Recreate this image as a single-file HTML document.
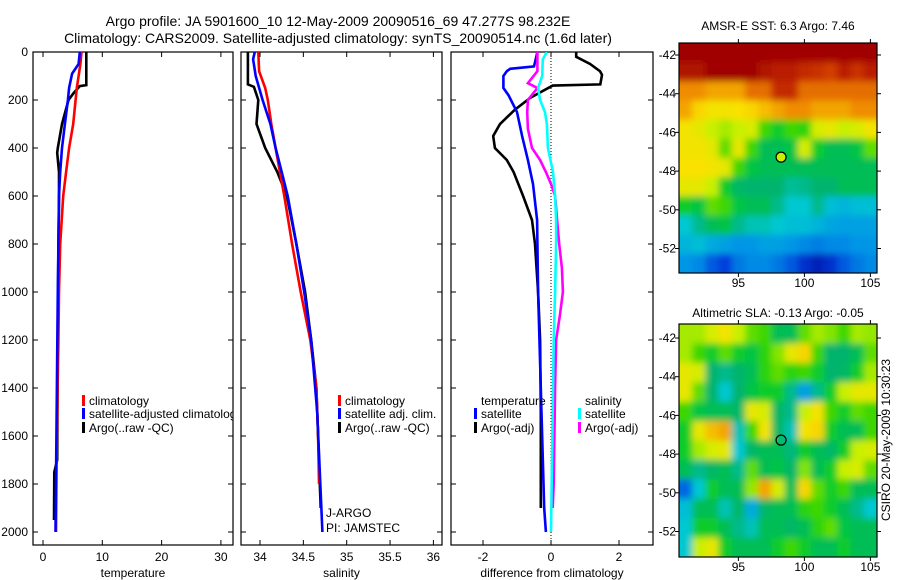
<!DOCTYPE html>
<html><head><meta charset="utf-8"><style>
body{margin:0;background:#fff;}
svg{display:block;font-family:"Liberation Sans",sans-serif;}
</style></head><body>
<svg id="fig" width="900" height="580" viewBox="0 0 900 580" xmlns="http://www.w3.org/2000/svg">
<defs>
<clipPath id="c1"><rect x="33" y="52" width="200" height="493"/></clipPath>
<clipPath id="c2"><rect x="241" y="52" width="201" height="493"/></clipPath>
<clipPath id="c3"><rect x="451" y="52" width="202" height="493"/></clipPath>
<clipPath id="cm1"><rect x="679" y="43" width="198" height="230"/></clipPath>
<clipPath id="cm2"><rect x="679" y="324" width="198" height="233"/></clipPath>
<filter id="bl" x="-5%" y="-5%" width="110%" height="110%"><feGaussianBlur stdDeviation="3.5"/></filter>
</defs>
<text x="338" y="26" font-size="14" text-anchor="middle">Argo profile: JA 5901600_10 12-May-2009 20090516_69 47.277S 98.232E</text>
<text x="338" y="43" font-size="14" text-anchor="middle">Climatology: CARS2009. Satellite-adjusted climatology: synTS_20090514.nc (1.6d later)</text>
<g id="g1"></g>
<g id="g2"></g>
<g id="g3"></g>
<g id="m1"></g>
<g id="m2"></g>
<text x="778" y="30" font-size="12" text-anchor="middle">AMSR-E SST: 6.3 Argo: 7.46</text>
<text x="778" y="317" font-size="12" text-anchor="middle">Altimetric SLA: -0.13 Argo: -0.05</text>
<text font-size="12" text-anchor="middle" transform="translate(890,440) rotate(-90)">CSIRO 20-May-2009 10:30:23</text>
</svg>
<script>
// ---- data ----
const depthTicks=[0,200,400,600,800,1000,1200,1400,1600,1800,2000];
const tempTicks=[0,10,20,30];
const salTicks=[34,34.5,35,35.5,36];
const diffTicks=[-2,0,2];
const tClimD=[0,50,150,200,300,400,500,600,800,1000,1200,1500,1700,2000];
const tClimV=[6.5,6.3,5.7,5.5,5.1,4.4,3.9,3.4,2.9,2.7,2.6,2.4,2.3,2.2];
const tSatD=[0,50,90,150,200,300,400,500,600,1000,2000];
const tSatV=[6.2,6.0,4.9,4.4,4.2,3.7,3.2,2.9,2.7,2.5,2.1];
const tArgoD=[0,138,142,170,200,300,400,420,500,600,800,1200,1700,1750,1950];
const tArgoV=[7.3,7.3,6.2,5.2,4.3,3.2,2.5,2.4,2.7,2.7,2.6,2.5,2.4,1.9,1.85];
const sClimD=[0,80,150,200,300,400,500,600,800,1000,1200,1400,1600,1800];
const sClimV=[33.98,33.99,34.06,34.09,34.13,34.18,34.23,34.28,34.37,34.47,34.58,34.65,34.67,34.68];
const sSatD=[0,30,100,200,300,400,500,600,800,1000,1200,1500,2000];
const sSatV=[33.94,33.92,33.95,34.03,34.12,34.18,34.25,34.32,34.42,34.51,34.59,34.66,34.72];
const sArgoD=[0,135,145,200,300,400,500,600,800,1000,1200,1400,1600,1800,1900];
const sArgoV=[33.86,33.86,33.93,33.98,33.96,34.06,34.2,34.31,34.42,34.52,34.59,34.65,34.67,34.69,34.7];
const dTSatD=[0,60,70,80,100,150,180,250,350,450,550,700,1000,1400,1900,2000];
const dTSatV=[-0.4,-0.5,-1.2,-1.3,-1.4,-1.4,-1.25,-1.0,-0.85,-0.68,-0.53,-0.41,-0.38,-0.3,-0.2,-0.15];
const dTArgoD=[0,20,50,80,95,135,140,190,240,300,350,400,450,500,600,700,800,1000,1200,1500,1900];
const dTArgoV=[0.74,0.74,1.15,1.44,1.5,1.45,0.05,-0.6,-1.06,-1.5,-1.7,-1.65,-1.3,-1.1,-0.82,-0.56,-0.47,-0.38,-0.32,-0.3,-0.3];
const dSSatD=[0,30,100,150,200,250,300,400,500,600,700,800,1000,1200,1500,2000];
const dSSatV=[-0.12,-0.24,-0.26,-0.38,-0.32,-0.18,-0.12,-0.09,0.06,0.12,0.15,0.15,0.12,0.08,0.05,0.0];
const dSArgoD=[0,80,130,150,200,250,320,400,450,500,550,600,700,800,900,1000,1100,1200,1400,1600,1800,1900];
const dSArgoV=[-0.4,-0.4,-0.68,-0.4,-0.68,-0.7,-0.68,-0.56,-0.32,-0.15,0,0.12,0.18,0.24,0.32,0.35,0.26,0.15,0.12,0.1,0.08,0.05];
const latTicks=[-42,-44,-46,-48,-50,-52];
const lonTicks=[95,100,105];
const argoLon=98.232, argoLat=-47.277;
const sstGrid=[
[1,1,1,1,1,1,1,1,1,1,1,1,1,1,1],
[0.97,0.97,1,1,1,1,0.97,0.95,0.95,0.93,0.92,0.9,0.95,0.92,0.95],
[0.82,0.82,0.8,0.8,0.8,0.85,0.85,0.93,0.93,0.85,0.85,0.85,0.85,0.85,0.85],
[0.8,0.76,0.74,0.74,0.75,0.76,0.78,0.8,0.82,0.82,0.8,0.8,0.8,0.82,0.82],
[0.74,0.72,0.68,0.66,0.68,0.7,0.6,0.55,0.6,0.58,0.7,0.72,0.68,0.7,0.74],
[0.74,0.74,0.72,0.62,0.72,0.6,0.5,0.5,0.52,0.7,0.55,0.5,0.5,0.52,0.62],
[0.75,0.75,0.74,0.72,0.6,0.52,0.5,0.5,0.5,0.5,0.5,0.5,0.5,0.5,0.5],
[0.72,0.72,0.68,0.55,0.48,0.47,0.47,0.47,0.44,0.45,0.47,0.47,0.5,0.5,0.5],
[0.55,0.52,0.62,0.6,0.52,0.5,0.5,0.45,0.4,0.4,0.45,0.38,0.36,0.38,0.38],
[0.4,0.45,0.5,0.52,0.45,0.42,0.42,0.4,0.38,0.38,0.36,0.33,0.32,0.32,0.32],
[0.36,0.38,0.34,0.32,0.3,0.3,0.32,0.32,0.3,0.28,0.26,0.28,0.28,0.3,0.3],
[0.3,0.28,0.2,0.15,0.25,0.28,0.28,0.25,0.2,0.12,0.08,0.12,0.2,0.25,0.28]];
const slaGrid=[
[0.66,0.66,0.7,0.74,0.68,0.62,0.6,0.5,0.5,0.62,0.66,0.64,0.6,0.66,0.65],
[0.66,0.6,0.55,0.62,0.55,0.52,0.58,0.64,0.72,0.76,0.6,0.47,0.47,0.5,0.62],
[0.72,0.7,0.47,0.45,0.47,0.5,0.58,0.62,0.58,0.6,0.55,0.47,0.48,0.55,0.66],
[0.72,0.62,0.47,0.4,0.47,0.52,0.55,0.55,0.45,0.32,0.45,0.55,0.68,0.72,0.72],
[0.6,0.52,0.5,0.5,0.48,0.72,0.7,0.48,0.45,0.68,0.74,0.6,0.55,0.62,0.6],
[0.55,0.72,0.78,0.8,0.42,0.6,0.74,0.48,0.42,0.74,0.76,0.55,0.5,0.5,0.6],
[0.55,0.66,0.7,0.72,0.4,0.48,0.5,0.5,0.46,0.55,0.5,0.48,0.55,0.68,0.7],
[0.5,0.45,0.48,0.5,0.45,0.62,0.5,0.52,0.48,0.64,0.5,0.55,0.68,0.7,0.62],
[0.22,0.4,0.55,0.5,0.5,0.65,0.8,0.7,0.5,0.76,0.62,0.55,0.6,0.5,0.5],
[0.38,0.5,0.5,0.42,0.48,0.34,0.48,0.5,0.5,0.58,0.6,0.55,0.5,0.45,0.4],
[0.4,0.55,0.55,0.5,0.45,0.42,0.5,0.5,0.48,0.5,0.58,0.62,0.52,0.5,0.5],
[0.4,0.68,0.72,0.55,0.5,0.5,0.5,0.55,0.6,0.55,0.5,0.5,0.55,0.5,0.5]];

// ---- helpers ----
const NS="http://www.w3.org/2000/svg";
function mk(tag,attrs,parent){const e=document.createElementNS(NS,tag);for(const k in attrs)e.setAttribute(k,attrs[k]);parent.appendChild(e);return e;}
const yD=d=>52+d*0.24;
const xT=v=>43+v*5.93;
const xS=v=>260+(v-34)*86.7;
const xDf=v=>551+v*34;

function panel(g,x0,x1,xs,xticks,fmt,xlabel,showY,clip){
  const b=mk('rect',{x:x0,y:52,width:x1-x0,height:493,fill:'none',stroke:'#000','stroke-width':1.2},g);
  
  
  depthTicks.forEach(d=>{
    const y=yD(d);
    mk('line',{x1:x0,x2:x0+5,y1:y,y2:y,stroke:'#000'},g);
    mk('line',{x1:x1-5,x2:x1,y1:y,y2:y,stroke:'#000'},g);
    if(showY){const t=mk('text',{x:28,y:y+4,'font-size':12,'text-anchor':'end'},g);t.textContent=d;
      
      }
  });
  xticks.forEach(v=>{
    const x=xs(v);
    mk('line',{x1:x,x2:x,y1:52,y2:57,stroke:'#000'},g);
    mk('line',{x1:x,x2:x,y1:540,y2:545,stroke:'#000'},g);
    const t=mk('text',{x:x,y:561,'font-size':12,'text-anchor':'middle'},g);t.textContent=fmt(v);
    
    
  });
  const l=mk('text',{x:(x0+x1)/2,y:577,'font-size':12,'text-anchor':'middle'},g);l.textContent=xlabel;
  
  
}
function line(g,ds,vs,xs,col,clip,name,w){
  const pts=ds.map((d,i)=>xs(vs[i]).toFixed(1)+','+yD(d).toFixed(1)).join(' ');
  const p=mk('polyline',{points:pts,fill:'none',stroke:col,'stroke-width':w||2.6,'clip-path':'url(#'+clip+')'},g);
  
  
}
function legend(g,x,y,col,txt,clip){
  if(col){const r=mk('rect',{x:x,y:y-10,width:3,height:11,fill:col},g);
    
    }
  const t=mk('text',{x:x+7,y:y,'font-size':12,'clip-path':'url(#'+clip+')'},g);t.textContent=txt;
  
  
}

const g1=document.getElementById('g1'),g2=document.getElementById('g2'),g3=document.getElementById('g3');
panel(g1,33,233,xT,tempTicks,v=>v,'temperature',true,'c1');
line(g1,tArgoD,tArgoV,xT,'#000','c1','temp-argo-line');
line(g1,tClimD,tClimV,xT,'#f00','c1','temp-climatology-line');
line(g1,tSatD,tSatV,xT,'#00f','c1','temp-satellite-line');
legend(g1,82,405,'#f00','climatology','c1');
legend(g1,82,418,'#00f','satellite-adjusted climatology','c1');
legend(g1,82,432,'#000','Argo(..raw -QC)','c1');

panel(g2,241,442,xS,salTicks,v=>v,'salinity',false,'c2');
line(g2,sArgoD,sArgoV,xS,'#000','c2','sal-argo-line');
line(g2,sClimD,sClimV,xS,'#f00','c2','sal-climatology-line');
line(g2,sSatD,sSatV,xS,'#00f','c2','sal-satellite-line');
legend(g2,338,405,'#f00','climatology','c2');
legend(g2,338,418,'#00f','satellite adj. clim.','c2');
legend(g2,338,432,'#000','Argo(..raw -QC)','c2');
const ja=mk('text',{x:326,y:517,'font-size':12},g2);ja.textContent='J-ARGO';


const pi=mk('text',{x:326,y:532,'font-size':12},g2);pi.textContent='PI: JAMSTEC';



panel(g3,451,653,xDf,diffTicks,v=>v,'difference from climatology',false,'c3');
const zl=mk('line',{x1:xDf(0),x2:xDf(0),y1:52,y2:545,stroke:'#000','stroke-dasharray':'1,2'},g3);


line(g3,dTArgoD,dTArgoV,xDf,'#000','c3','diff-temp-argo-line');
line(g3,dTSatD,dTSatV,xDf,'#00f','c3','diff-temp-satellite-line');
line(g3,dSArgoD,dSArgoV,xDf,'#f0f','c3','diff-sal-argo-line');
line(g3,dSSatD,dSSatV,xDf,'#0ff','c3','diff-sal-satellite-line');
legend(g3,474,405,null,'temperature','c3');
legend(g3,474,418,'#00f','satellite','c3');
legend(g3,474,432,'#000','Argo(-adj)','c3');
legend(g3,578,405,null,'salinity','c3');
legend(g3,578,418,'#0ff','satellite','c3');
legend(g3,578,432,'#f0f','Argo(-adj)','c3');

// colormap
const stops=[[0,[0,0,140]],[0.15,[0,60,220]],[0.3,[0,150,230]],[0.4,[0,200,210]],[0.47,[0,180,110]],[0.53,[0,200,60]],[0.6,[60,215,0]],[0.68,[200,240,0]],[0.75,[250,225,0]],[0.82,[240,140,0]],[0.9,[210,60,0]],[1,[160,0,0]]];
function cmap(v){for(let i=1;i<stops.length;i++){if(v<=stops[i][0]){const a=stops[i-1],b=stops[i],t=(v-a[0])/(b[0]-a[0]);return 'rgb('+a[1].map((c,k)=>Math.round(c+(b[1][k]-c)*t)).join(',')+')';}}return 'rgb(160,0,0)';}

function mapPanel(g,grid,top,bot,lat42y,clip,pre){
  const L=679,R=877,lonX=lo=>L+(lo-90.5)*13.2,latY=la=>lat42y+(-42-la)*19.35;
  const rows=grid.length,cols=grid[0].length,cw=(R-L)/cols,rh=(bot-top)/rows;
  const cg=mk('g',{'clip-path':'url(#'+clip+')'},g);
  const bg=mk('g',{filter:'url(#bl)'},cg);
  grid.forEach((row,r)=>row.forEach((v,c)=>{
    const x=L+c*cw-(c==0?12:0),y=top+r*rh-(r==0?12:0);
    const w=cw+(c==0?12:0)+(c==cols-1?12:0)+0.5,h=rh+(r==0?12:0)+(r==rows-1?12:0)+0.5;
    const cell=mk('rect',{x:x,y:y,width:w,height:h,fill:cmap(v)},bg);
    
    
  }));
  const fr=mk('rect',{x:L,y:top,width:R-L,height:bot-top,fill:'none',stroke:'#000','stroke-width':1.2},g);
  
  
  latTicks.forEach(la=>{const y=latY(la);
    mk('line',{x1:L-4,x2:L,y1:y,y2:y,stroke:'#000'},g);
    mk('line',{x1:R,x2:R+4,y1:y,y2:y,stroke:'#000'},g);
    const t=mk('text',{x:L-3,y:y+4,'font-size':12,'text-anchor':'end'},g);t.textContent=la;
    
    });
  lonTicks.forEach(lo=>{const x=lonX(lo);
    mk('line',{x1:x,x2:x,y1:top-4,y2:top,stroke:'#000'},g);
    mk('line',{x1:x,x2:x,y1:bot,y2:bot+4,stroke:'#000'},g);
    const t=mk('text',{x:x,y:bot+14,'font-size':12,'text-anchor':'middle'},g);t.textContent=lo;
    
    });
  return {lonX,latY};
}
const a1=mapPanel(document.getElementById('m1'),sstGrid,43,273,55,'cm1','sst');
const d1=mk('circle',{cx:a1.lonX(argoLon),cy:a1.latY(argoLat),r:5,fill:'#c8f000',stroke:'#000','stroke-width':1.2},document.getElementById('m1'));


const a2=mapPanel(document.getElementById('m2'),slaGrid,324,557,338,'cm2','sla');
const d2=mk('circle',{cx:a2.lonX(argoLon),cy:a2.latY(argoLat),r:5,fill:'none',stroke:'#000','stroke-width':1.2},document.getElementById('m2'));


</script>
</body></html>
